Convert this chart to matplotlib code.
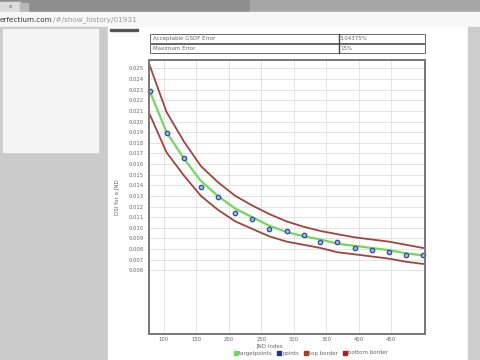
import matplotlib
matplotlib.use("Agg")
import matplotlib.pyplot as plt
from matplotlib.patches import Rectangle
from matplotlib.lines import Line2D

# JND index of each sample
jnd_index = [78, 104, 131, 157, 183, 210, 236, 262, 289, 315, 341, 367, 394, 420, 446, 473, 499]
# target curve (green)
target_points = [0.0229, 0.0190, 0.0165, 0.0144, 0.0130, 0.0118, 0.0110, 0.0102, 0.0096,
                 0.0092, 0.0089, 0.0085, 0.0083, 0.0081, 0.0079, 0.0076, 0.0074]
# measured points (blue)
points = [0.0229, 0.0189, 0.01655, 0.01385, 0.01287, 0.01143, 0.01086, 0.00989, 0.00967,
          0.00929, 0.00863, 0.0087, 0.00806, 0.00794, 0.00772, 0.0074, 0.0074]
top_border = [0.0253, 0.0209, 0.0181, 0.0158, 0.0143, 0.0130, 0.0121, 0.0113, 0.0106,
              0.0101, 0.0097, 0.0094, 0.0091, 0.0089, 0.0087, 0.0084, 0.0081]
bottom_border = [0.0207, 0.0171, 0.0149, 0.0130, 0.0117, 0.0106, 0.0099, 0.0092, 0.0087,
                 0.0084, 0.0081, 0.0077, 0.0075, 0.0073, 0.0071, 0.0068, 0.0066]

y_ticks = [0.006, 0.007, 0.008, 0.009, 0.010, 0.011, 0.012, 0.013, 0.014, 0.015, 0.016,
           0.017, 0.018, 0.019, 0.020, 0.021, 0.022, 0.023, 0.024, 0.025]
x_ticks = [100, 150, 200, 250, 300, 350, 400, 450]

table_rows = [("Acceptable GSDF Error", "3.04375%"), ("Maximum Error", "15%")]
url_host = "erfectium.com"
url_path = "/#/show_history/01931"

GREEN = "#74d65a"
BLUE = "#2f4f9a"
RED = "#a3443c"

fig = plt.figure(figsize=(4.8, 3.6), dpi=100)

# page / browser background in pixel coords
bg = fig.add_axes([0, 0, 1, 1])
bg.set_xlim(0, 480)
bg.set_ylim(360, 0)
bg.axis("off")
bg.add_patch(Rectangle((0, 0), 480, 12, color="#8e8e8e"))
bg.add_patch(Rectangle((250, 0), 230, 12, color="#a6a6a6"))
bg.add_patch(Rectangle((0, 2), 20, 10, color="#dcdcdc"))
bg.add_patch(Rectangle((20, 3), 8, 9, color="#b8b8b8"))
bg.text(10, 7, "x", fontsize=4, color="#555", ha="center", va="center")
bg.add_patch(Rectangle((0, 12), 480, 15, color="#f7f7f7"))
t = bg.text(0, 19.5, url_host, fontsize=5.2, color="#333", va="center")
bg.annotate(url_path, xycoords=t, xy=(1, 0.5), va="center", fontsize=5.2, color="#999")
bg.add_patch(Rectangle((0, 27), 108, 333, color="#cbcbcb"))
bg.add_patch(Rectangle((3, 29), 95, 123, color="#f4f4f4"))
bg.add_patch(Rectangle((108, 27), 360, 333, color="#ffffff"))
bg.add_patch(Rectangle((468, 27), 12, 333, color="#cdcdcd"))
bg.add_patch(Rectangle((110, 29), 28, 2, color="#555555"))

# table above the chart
row_y = [34, 43.5]
for (name, val), y0 in zip(table_rows, row_y):
    bg.add_patch(Rectangle((150, y0), 275, 9, fill=False, ec="#666", lw=0.7))
    bg.text(153, y0 + 4.6, name, fontsize=4, color="#666", va="center")
    bg.text(340, y0 + 4.6, val, fontsize=4, color="#666", va="center")
bg.plot([339, 339], [34, 52.5], color="#444", lw=1)

# chart
ax = fig.add_axes([149 / 480, 1 - 334 / 360, 276 / 480, 274 / 360])
ax.set_facecolor("white")
ax.plot(jnd_index, top_border, color=RED, lw=1.3, label="top border")
ax.plot(jnd_index, bottom_border, color=RED, lw=1.3, label="bottom border")
ax.plot(jnd_index, target_points, color=GREEN, lw=1.6, label="targetpoints")
ax.plot(jnd_index, points, ls="none", marker="o", ms=3.2, mfc="#9fb8e0",
        mec=BLUE, mew=0.9, label="points", clip_on=False)

ax.set_xlim(77, 502)
ax.set_ylim(0, 0.0258)
ax.set_xticks(x_ticks)
ax.set_yticks(y_ticks)
ax.set_yticklabels([f"{v:.3f}" for v in y_ticks])
ax.tick_params(length=0, labelsize=3.8, labelcolor="#666")
ax.tick_params(axis="x", pad=2)
ax.tick_params(axis="y", pad=4)
ax.grid(True, color="#dedede", lw=0.6)
ax.set_axisbelow(True)
for s in ax.spines.values():
    s.set_color("#777")
    s.set_linewidth(1.4)
ax.set_xlabel("JND Index", fontsize=4, color="#666")
ax.xaxis.set_label_coords((270 - 149) / 276, -(344 - 334) / 274)
ax.set_ylabel("DSI for a JND", fontsize=4, color="#666")
ax.yaxis.set_label_coords(-(149 - 120) / 276, 0.5)

handles = [Line2D([], [], ls="none", marker="s", ms=2.5, color=GREEN),
           Line2D([], [], ls="none", marker="s", ms=2.5, color="#24338a"),
           Line2D([], [], ls="none", marker="s", ms=2.5, color="#b03a2e"),
           Line2D([], [], ls="none", marker="s", ms=2.5, color="#a82323")]
fig.legend(handles, ["targetpoints", "points", "top border", "bottom border"],
           loc="center", bbox_to_anchor=(311 / 480, 1 - 353 / 360), ncol=4,
           frameon=False, fontsize=4, handlelength=0.6, handletextpad=0.2,
           columnspacing=1.0, labelcolor="#666")

fig.savefig("out.png", dpi=100)
